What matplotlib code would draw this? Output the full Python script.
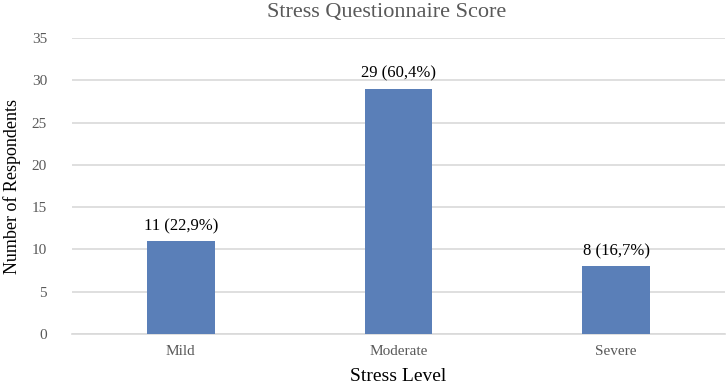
import matplotlib
matplotlib.use("Agg")
import matplotlib.pyplot as plt

categories = ["Mild", "Moderate", "Severe"]
counts = [11, 29, 8]
labels = ["11 (22,9%)", "29 (60,4%)", "8 (16,7%)"]
yticks = [0, 5, 10, 15, 20, 25, 30, 35]

plt.rcParams['font.family'] = ['Liberation Serif', 'DejaVu Serif']

fig = plt.figure(figsize=(7.26, 3.9), dpi=100)
ax = fig.add_axes([72/726, 56/390, 653/726, 296/390])

x = range(len(categories))
bars = ax.bar(x, counts, width=0.31, color="#5A7FB8", zorder=3)
for b, lab in zip(bars, labels):
    ax.annotate(lab, (b.get_x() + b.get_width()/2, b.get_height()),
                xytext=(0, 5), textcoords="offset points",
                ha="center", va="bottom", fontsize=12, color="black")

ax.set_xlim(-0.5, len(categories) - 0.5)
ax.set_ylim(0, 35)
ax.set_yticks(yticks)
ax.set_xticks(list(x))
ax.set_xticklabels(categories)
ax.grid(axis="y", color="#D9D9D9", linewidth=1.2, zorder=0)
for s in ["top", "right", "left"]:
    ax.spines[s].set_visible(False)
ax.spines["bottom"].set_color("#D9D9D9")
ax.spines["bottom"].set_linewidth(1.2)
ax.tick_params(axis="both", length=0, colors="#595959", labelsize=11)
ax.tick_params(axis="y", pad=18)
ax.tick_params(axis="x", pad=8)

ax.set_xlabel("Stress Level", fontsize=14, color="black", labelpad=7)
ax.set_ylabel("Number of Respondents", fontsize=13, color="black", labelpad=8)
fig.text(0.533, 0.968, "Stress Questionnaire Score", ha="center", va="center",
         fontsize=16, color="#595959")

fig.savefig("out.png", dpi=100)
